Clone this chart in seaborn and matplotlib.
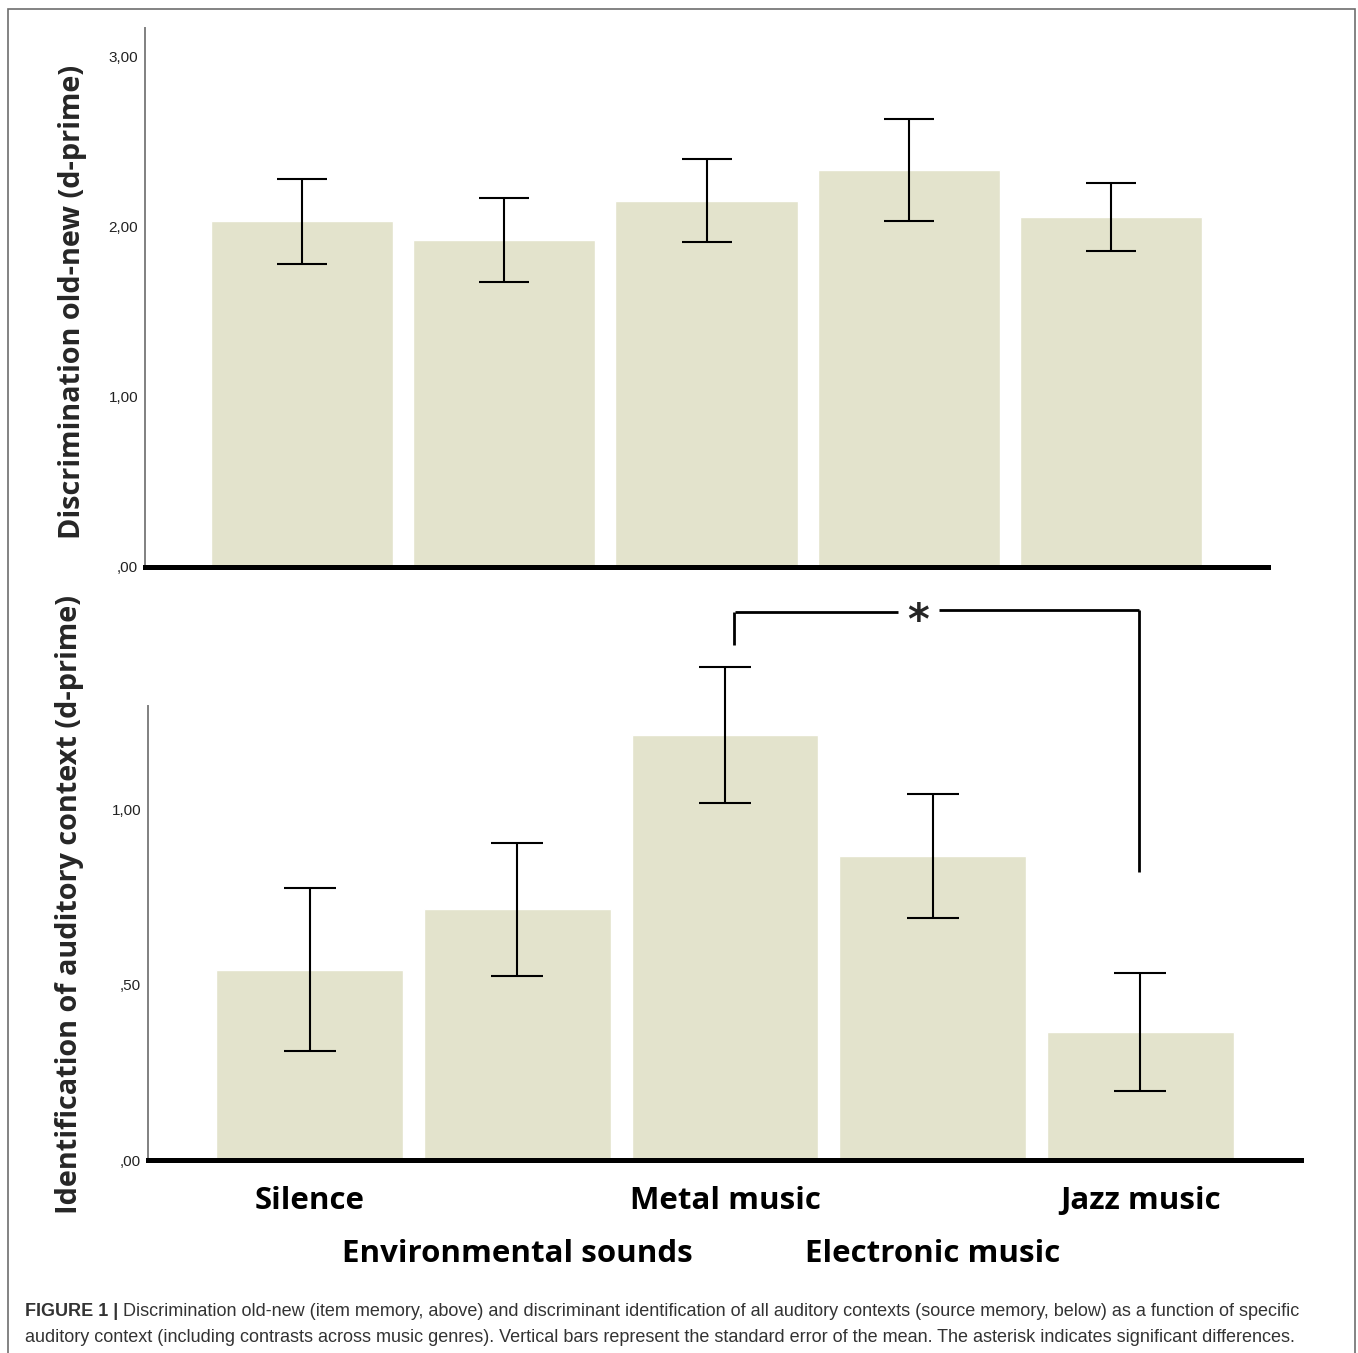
import matplotlib
matplotlib.use("Agg")
import matplotlib.pyplot as plt
import seaborn as sns
import pandas as pd
import numpy as np
from matplotlib.patches import Rectangle

# ---- data ----
categories = ["Silence", "Environmental sounds", "Metal music", "Electronic music", "Jazz music"]
item_mean = [2.03, 1.92, 2.15, 2.33, 2.055]
item_se = [0.25, 0.247, 0.243, 0.30, 0.20]
source_mean = [0.543, 0.717, 1.214, 0.869, 0.366]
source_se = [0.233, 0.19, 0.194, 0.177, 0.169]
item_ticks = [0.0, 1.0, 2.0, 3.0]
source_ticks = [0.0, 0.5, 1.0]
ylabel_top = "Discrimination old-new (d-prime)"
ylabel_bottom = "Identification of auditory context (d-prime)"
caption_bold = "FIGURE 1 |"
caption_line1 = ("Discrimination old-new (item memory, above) and discriminant identification of all "
                 "auditory contexts (source memory, below) as a function of specific")
caption_line2 = ("auditory context (including contrasts across music genres). Vertical bars represent "
                 "the standard error of the mean. The asterisk indicates significant differences.")

BAR = "#e3e3cc"
W, H = 1358, 1353
sns.set_theme(style="white")
plt.rcParams['font.family'] = ['Liberation Sans', 'DejaVu Sans']

fig = plt.figure(figsize=(W / 100, H / 100), dpi=100)
fig.patch.set_facecolor("white")
# frame around figure
fig.add_artist(Rectangle((8 / W, -0.01), (1355 - 8) / W, 1 - 9 / H + 0.01, transform=fig.transFigure,
                         fill=False, edgecolor="#6e6e6e", linewidth=1.2))


def px_axes(l, t, r, b):
    return fig.add_axes([l / W, 1 - b / H, (r - l) / W, (b - t) / H])


def fmt(v):
    s = f"{v:.2f}".replace(".", ",")
    return s[1:] if s.startswith("0") else s


def style(ax, ticks):
    ax.set_yticks(ticks)
    ax.set_yticklabels([fmt(t) for t in ticks], fontsize=11, color="#222222")
    ax.tick_params(axis="y", length=0, pad=5)
    ax.tick_params(axis="x", length=0)
    for s in ["top", "right"]:
        ax.spines[s].set_visible(False)
    ax.spines["left"].set_color("#808080")
    ax.spines["left"].set_linewidth(1.4)
    ax.spines["bottom"].set_color("black")
    ax.spines["bottom"].set_linewidth(3.6)
    ax.set_facecolor("white")


def draw_err(ax, means, ses, cap):
    eb = ax.errorbar(np.arange(len(means)), means, yerr=ses, fmt="none", ecolor="black",
                     elinewidth=1.5, capsize=cap, capthick=1.5)
    for art in eb.lines[1]:
        art.set_clip_on(False)
    for art in eb.lines[2]:
        art.set_clip_on(False)


df_item = pd.DataFrame({"cat": categories, "val": item_mean})
df_src = pd.DataFrame({"cat": categories, "val": source_mean})
label_font = ["Open Sans", "DejaVu Sans"]

# ---- top panel ----
ax1 = px_axes(145, 28, 1268, 567)
sns.barplot(data=df_item, x="cat", y="val", color=BAR, saturation=1, width=0.9, errorbar=None, ax=ax1)
draw_err(ax1, item_mean, item_se, 18)
ax1.set_xlim(-0.776, 4.776)
ax1.set_ylim(0, 3.165)
style(ax1, item_ticks)
ax1.set_xticklabels([])
ax1.set_xlabel("")
ax1.set_ylabel(ylabel_top, fontsize=20.8, fontweight="bold", family=label_font, va="center")
ax1.yaxis.set_label_coords(-0.065, 0.492)

# ---- bottom panel ----
ax2 = px_axes(148, 706, 1301, 1160)
sns.barplot(data=df_src, x="cat", y="val", color=BAR, saturation=1, width=0.9, errorbar=None, ax=ax2)
draw_err(ax2, source_mean, source_se, 19)
ax2.set_xlim(-0.778, 4.773)
ax2.set_ylim(0, 1.297)
style(ax2, source_ticks)
ax2.set_xlabel("")
ax2.set_xticks(range(len(categories)))
ax2.set_xticklabels(categories, fontsize=22.5, fontweight="bold", family=label_font, color="black")
for i, tk in enumerate(ax2.xaxis.get_major_ticks()):
    tk.set_pad(19 if i % 2 == 0 else 57)
ax2.set_ylabel(ylabel_bottom, fontsize=20.8, fontweight="bold", family=label_font, va="center")
ax2.yaxis.set_label_coords(-0.0677, 0.562)

# significance bracket between Metal music (2) and Jazz music (4)
lk = dict(color="black", linewidth=2.0, clip_on=False, solid_capstyle="butt")
ax2.plot([2.041, 2.041], [1.471, 1.566], **lk)
ax2.plot([2.05, 2.831], [1.566, 1.566], **lk)
ax2.plot([3.029, 3.993], [1.571, 1.571], **lk)
ax2.plot([3.993, 3.993], [1.571, 0.823], **lk)
ax2.text(2.93, 1.538, "*", ha="center", va="center", fontsize=30, fontweight="bold",
         family=["DejaVu Sans"], clip_on=False)

# ---- caption ----
cap_kw = dict(fontsize=13, color="#333333", va="center")
t0 = fig.text(25 / W, 1 - 1312 / H, caption_bold, fontweight="bold", **cap_kw)
r = fig.canvas.get_renderer()
bb = t0.get_window_extent(renderer=r)
fig.text((bb.x1 + 5) / W, 1 - 1312 / H, caption_line1, **cap_kw)
fig.text(25 / W, 1 - 1337 / H, caption_line2, **cap_kw)

fig.savefig("out.png", dpi=100, facecolor="white")
